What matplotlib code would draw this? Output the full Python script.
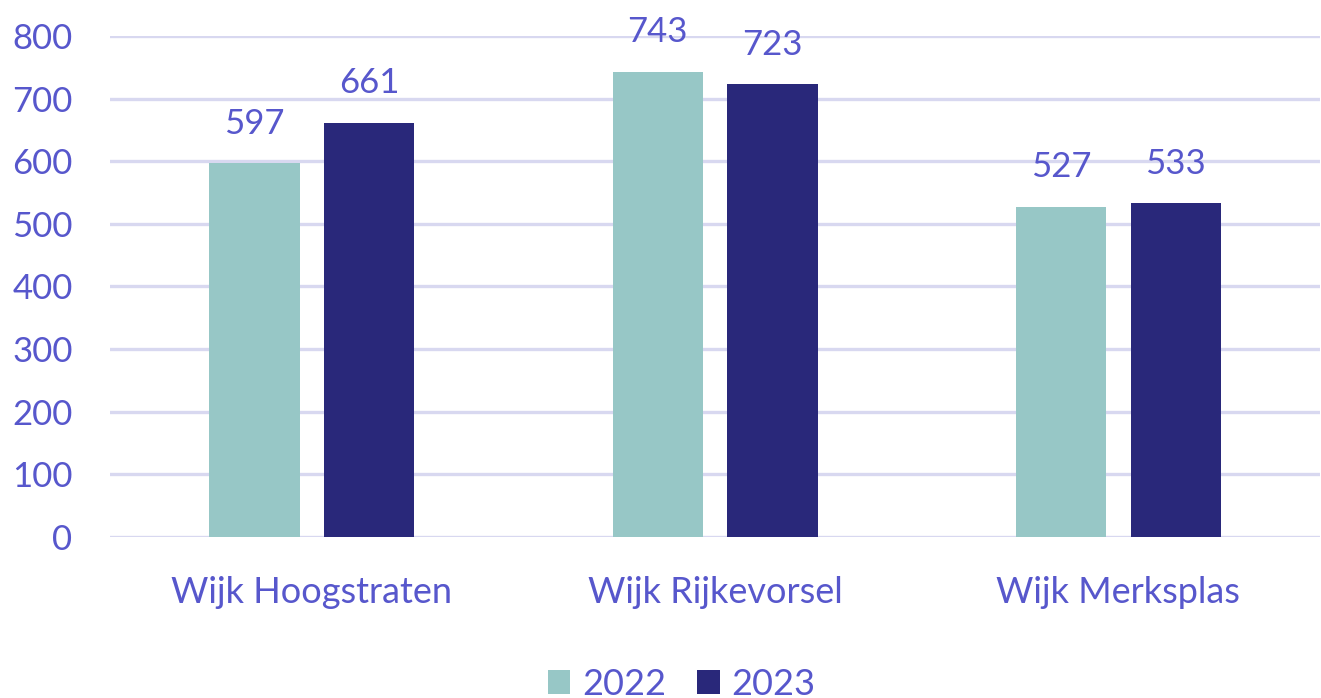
import matplotlib.pyplot as plt
import numpy as np

categories = ["Wijk Hoogstraten", "Wijk Rijkevorsel", "Wijk Merksplas"]
years = ["2022", "2023"]
values_2022 = [597, 743, 527]
values_2023 = [661, 723, 533]
yticks = [0, 100, 200, 300, 400, 500, 600, 700, 800]

text_color = "#5757CC"
colors = ["#97C7C6", "#29287A"]

plt.rcParams['font.family'] = ['Lato', 'DejaVu Sans']

fig = plt.figure(figsize=(13.21, 6.98), dpi=100)
ax = fig.add_axes([0.0833, 0.2307, 0.916, 0.7177])

x = np.arange(len(categories))
w = 0.224
off = 0.142
for i, (vals, lab) in enumerate(zip([values_2022, values_2023], years)):
    bars = ax.bar(x + (i * 2 - 1) * off, vals, width=w, color=colors[i], label=lab, zorder=3)
    for b, v in zip(bars, vals):
        ax.annotate(str(v), (b.get_x() + b.get_width() / 2, v), xytext=(0, 17),
                    textcoords="offset points", ha="center", va="bottom",
                    fontsize=25, color=text_color, annotation_clip=False)

ax.set_xlim(-0.5, 2.5)
ax.set_ylim(0, 800)
ax.set_yticks(yticks)
ax.set_xticks(x)
ax.set_xticklabels(categories)
ax.tick_params(axis='y', length=0, pad=27, labelsize=25, labelcolor=text_color)
ax.tick_params(axis='x', length=0, pad=28, labelsize=26, labelcolor=text_color)
ax.grid(axis='y', color="#D8D8F0", linewidth=2.4, zorder=0)
for s in ax.spines.values():
    s.set_visible(False)

leg = fig.legend(loc='center', bbox_to_anchor=(0.516, 0.02), ncol=2, frameon=False,
                 fontsize=26, handlelength=0.62, handleheight=0.62, handletextpad=0.33,
                 columnspacing=0.86, labelcolor=text_color)

fig.savefig("out.png", dpi=100)
